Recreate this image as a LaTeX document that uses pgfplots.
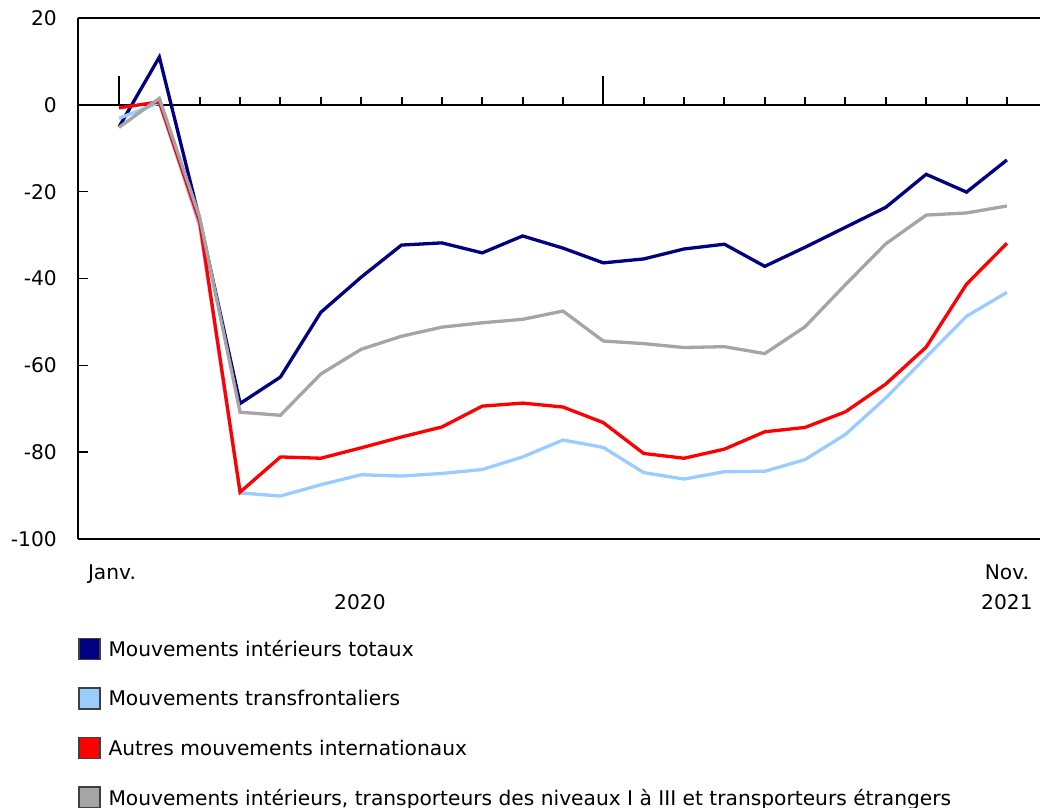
\documentclass[border=0pt]{standalone}
\usepackage{fontspec}
\setmainfont{DejaVu Sans}
\usepackage{pgfplots}
\pgfplotsset{compat=1.18}
\definecolor{cnavy}{RGB}{0,0,128}
\definecolor{clight}{RGB}{153,204,255}
\definecolor{cred}{RGB}{255,0,0}
\definecolor{cgray}{RGB}{165,165,165}
\begin{document}
\begin{tikzpicture}
\useasboundingbox (0,0) rectangle (1040bp,808bp);
\begin{axis}[
  at={(78bp,269bp)}, anchor=south west,
  scale only axis, width=962bp, height=521bp,
  xmin=-1.016, xmax=22.82, ymin=-100, ymax=20,
  axis x line*=bottom, axis y line*=left,
  axis line style={black, line width=1.8bp, -},
  font=\fontsize{20.2bp}{24bp}\selectfont,
  ytick={-100,-80,-60,-40,-20,0,20},
  yticklabels={-100,-80,-60,-40,-20,0,20},
  ytick style={black, line width=1.6bp},
  major tick length=10bp,
  tick align=inside,
  yticklabel style={anchor=east, inner sep=0pt, xshift=-21bp},
  xtick={0,22}, xticklabels={\hspace*{-14bp}Janv., Nov.},
  xtick style={draw=none},
  xticklabel style={anchor=north, inner sep=0pt, yshift=-26bp},
  extra x ticks={5.97,22}, extra x tick labels={2020,2021},
  extra x tick style={xtick style={draw=none}, xticklabel style={yshift=-29bp}},
  clip=false,
  legend style={draw=none, fill=none, at={(0,-0.190)}, anchor=north west, inner sep=0pt, outer sep=0pt,
    row sep=27bp, nodes={inner sep=0pt, anchor=west}},
  legend cell align=left,
  /tikz/every odd column/.append style={column sep=8bp},
  legend image code/.code={\draw[#1, line width=1.5bp, draw=black!75, fill] (0bp,-10.5bp) rectangle (21bp,10.5bp);},
]
\draw[black, line width=1.8bp] (rel axis cs:0,1) -- (rel axis cs:1,1);
\draw[black, line width=2bp] (axis cs:-1.016,0) -- (axis cs:22.82,0);
\pgfplotsinvokeforeach{1,2,3,4,5,6,7,8,9,10,11,13,14,15,16,17,18,19,20,21,22}{\draw[black, line width=2bp] (axis cs:#1,0) -- ([yshift=8bp]axis cs:#1,0);}
\draw[black, line width=2bp] (axis cs:0,0) -- ([yshift=29bp]axis cs:0,0);
\draw[black, line width=2bp] (axis cs:12,0) -- ([yshift=29bp]axis cs:12,0);
\addplot[cnavy, line width=3.3bp] coordinates {
(0,-5.1) (1,11) (2,-26.5) (3,-68.8) (4,-62.7) (5,-47.8) (6,-39.7) (7,-32.3) (8,-31.8) (9,-34.1) (10,-30.2) (11,-33.0)
(12,-36.4) (13,-35.5) (14,-33.2) (15,-32.1) (16,-37.2) (17,-32.8) (18,-28.2) (19,-23.6) (20,-16.0) (21,-20.1) (22,-12.7)};
\addlegendentry{Mouvements intérieurs totaux}
\addplot[clight, line width=3.3bp] coordinates {
(0,-3.1) (1,0.5) (2,-28) (3,-89.4) (4,-90.1) (5,-87.5) (6,-85.2) (7,-85.5) (8,-84.9) (9,-84.0) (10,-81.1) (11,-77.2)
(12,-78.9) (13,-84.7) (14,-86.2) (15,-84.5) (16,-84.4) (17,-81.7) (18,-75.9) (19,-67.5) (20,-58.1) (21,-48.7) (22,-43.2)};
\addlegendentry{Mouvements transfrontaliers}
\addplot[cred, line width=3.3bp] coordinates {
(0,-0.7) (1,0.7) (2,-27) (3,-89.2) (4,-81.1) (5,-81.4) (6,-79.0) (7,-76.5) (8,-74.2) (9,-69.4) (10,-68.7) (11,-69.6)
(12,-73.2) (13,-80.3) (14,-81.4) (15,-79.3) (16,-75.3) (17,-74.3) (18,-70.7) (19,-64.3) (20,-55.8) (21,-41.3) (22,-31.9)};
\addlegendentry{Autres mouvements internationaux}
\addplot[cgray, line width=3.3bp] coordinates {
(0,-5.2) (1,1.5) (2,-25.9) (3,-70.8) (4,-71.5) (5,-62.0) (6,-56.3) (7,-53.3) (8,-51.2) (9,-50.2) (10,-49.4) (11,-47.5)
(12,-54.4) (13,-55.0) (14,-55.9) (15,-55.7) (16,-57.3) (17,-51.1) (18,-41.4) (19,-32.0) (20,-25.4) (21,-24.9) (22,-23.3)};
\addlegendentry{Mouvements intérieurs, transporteurs des niveaux I à III et transporteurs étrangers}
\end{axis}
\end{tikzpicture}
\end{document}
